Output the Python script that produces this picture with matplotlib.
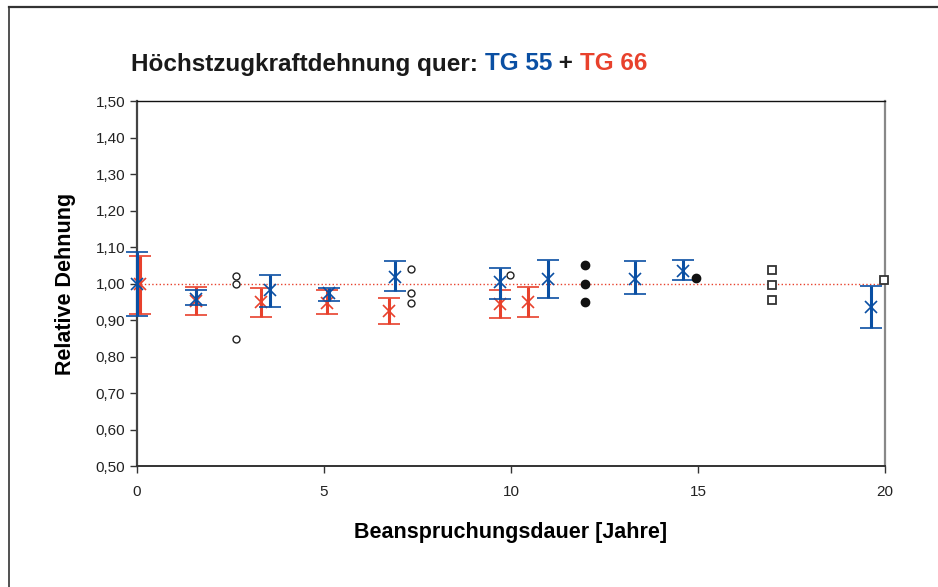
import matplotlib.pyplot as plt
from matplotlib.lines import Line2D
from matplotlib.ticker import FuncFormatter

# TG 55 (blau) - Mittelwert, obere und untere Grenze
tg55_x = [0.0, 1.58, 3.57, 5.13, 6.90, 9.71, 11.0, 13.32, 14.61, 19.62]
tg55_y = [1.000, 0.957, 0.982, 0.973, 1.019, 1.003, 1.013, 1.013, 1.035, 0.935]
tg55_hi = [1.085, 0.982, 1.024, 0.989, 1.062, 1.043, 1.064, 1.062, 1.064, 0.993]
tg55_lo = [0.912, 0.942, 0.936, 0.953, 0.980, 0.957, 0.960, 0.970, 1.010, 0.879]

# TG 66 (rot)
tg66_x = [0.08, 1.57, 3.32, 5.07, 6.75, 9.71, 10.46]
tg66_y = [1.000, 0.953, 0.950, 0.948, 0.925, 0.944, 0.950]
tg66_hi = [1.076, 0.991, 0.989, 0.982, 0.961, 0.982, 0.991]
tg66_lo = [0.916, 0.914, 0.909, 0.917, 0.889, 0.906, 0.909]

# Einzelwerte
open_x = [2.64, 2.64, 2.64, 7.34, 7.34, 7.34, 9.97]
open_y = [1.021, 0.999, 0.847, 1.039, 0.973, 0.947, 1.024]
filled_x = [11.98, 11.98, 11.98, 14.96]
filled_y = [1.052, 1.000, 0.949, 1.015]
square_x = [16.99, 16.99, 16.99, 19.98]
square_y = [1.037, 0.997, 0.956, 1.011]

ref_x = [0, 20]
ref_y = [1.0, 1.0]

blue = '#0a4fa3'
red = '#e8412c'

plt.rcParams['font.family'] = ['Liberation Sans', 'DejaVu Sans']

fig = plt.figure(figsize=(9.38, 5.87), dpi=100)
ax = fig.add_axes([0.146, 0.2061, 0.7975, 0.6218])

ax.plot(ref_x, ref_y, color=red, linestyle=':', linewidth=1.0, zorder=1)

for xs, ys, hi, lo, col, z in [(tg66_x, tg66_y, tg66_hi, tg66_lo, red, 3),
                               (tg55_x, tg55_y, tg55_hi, tg55_lo, blue, 4)]:
    eb = ax.errorbar(xs, ys,
                     yerr=[[y - l for y, l in zip(ys, lo)], [h - y for y, h in zip(ys, hi)]],
                     fmt='x', color=col, ecolor=col, elinewidth=2.2, capsize=8, capthick=2.2,
                     markersize=8, markeredgewidth=1.2, zorder=z)
    for art in eb.get_children():
        art.set_clip_on(False)

ax.plot(open_x, open_y, 'o', markersize=5, markerfacecolor='white',
        markeredgecolor='#222222', markeredgewidth=1.0, zorder=5)
ax.plot(filled_x, filled_y, 'o', markersize=6, color='#111111', zorder=5)
ax.plot(square_x, square_y, 's', markersize=6, markerfacecolor='white',
        markeredgecolor='#333333', markeredgewidth=1.3, zorder=5, clip_on=False)

ax.set_xlim(0, 20)
ax.set_ylim(0.5, 1.5)
ax.set_xticks([0, 5, 10, 15, 20])
ax.set_yticks([0.5 + 0.1 * i for i in range(11)])
ax.yaxis.set_major_formatter(FuncFormatter(lambda v, p: f'{v:.2f}'.replace('.', ',')))
ax.tick_params(axis='both', direction='out', length=5, width=1, color='#333333',
               labelsize=11, labelcolor='#222222')
ax.tick_params(axis='x', pad=9)

ax.spines['left'].set_color('#444444')
ax.spines['left'].set_linewidth(1.6)
ax.spines['bottom'].set_color('#333333')
ax.spines['bottom'].set_linewidth(1.4)
ax.spines['top'].set_color('#111111')
ax.spines['top'].set_linewidth(1.0)
ax.spines['right'].set_color('#888888')
ax.spines['right'].set_linewidth(1.6)

ax.set_xlabel('Beanspruchungsdauer [Jahre]', fontsize=15.5, fontweight='bold', labelpad=16)
ax.set_ylabel('Relative Dehnung', fontsize=15.5, fontweight='bold', labelpad=14)

# Titel in mehreren Farben
parts = [('Höchstzugkraftdehnung quer: ', '#1a1a1a'), ('TG 55', blue),
         (' + ', '#1a1a1a'), ('TG 66', red)]
fig.canvas.draw()
renderer = fig.canvas.get_renderer()
x0 = 131 / 938
for txt, col in parts:
    t = fig.text(x0, 1 - 64 / 587, txt, color=col, fontsize=17.5, fontweight='bold',
                 va='center', ha='left')
    bb = t.get_window_extent(renderer=renderer)
    x0 += bb.width / fig.bbox.width

# Rahmen oben und links
fig.add_artist(Line2D([9 / 938, 9 / 938], [0, 1 - 7 / 587], transform=fig.transFigure,
                      color='#333333', linewidth=1.2))
fig.add_artist(Line2D([9 / 938, 1], [1 - 7 / 587, 1 - 7 / 587], transform=fig.transFigure,
                      color='#333333', linewidth=1.6))

fig.savefig('out.png', dpi=100)
